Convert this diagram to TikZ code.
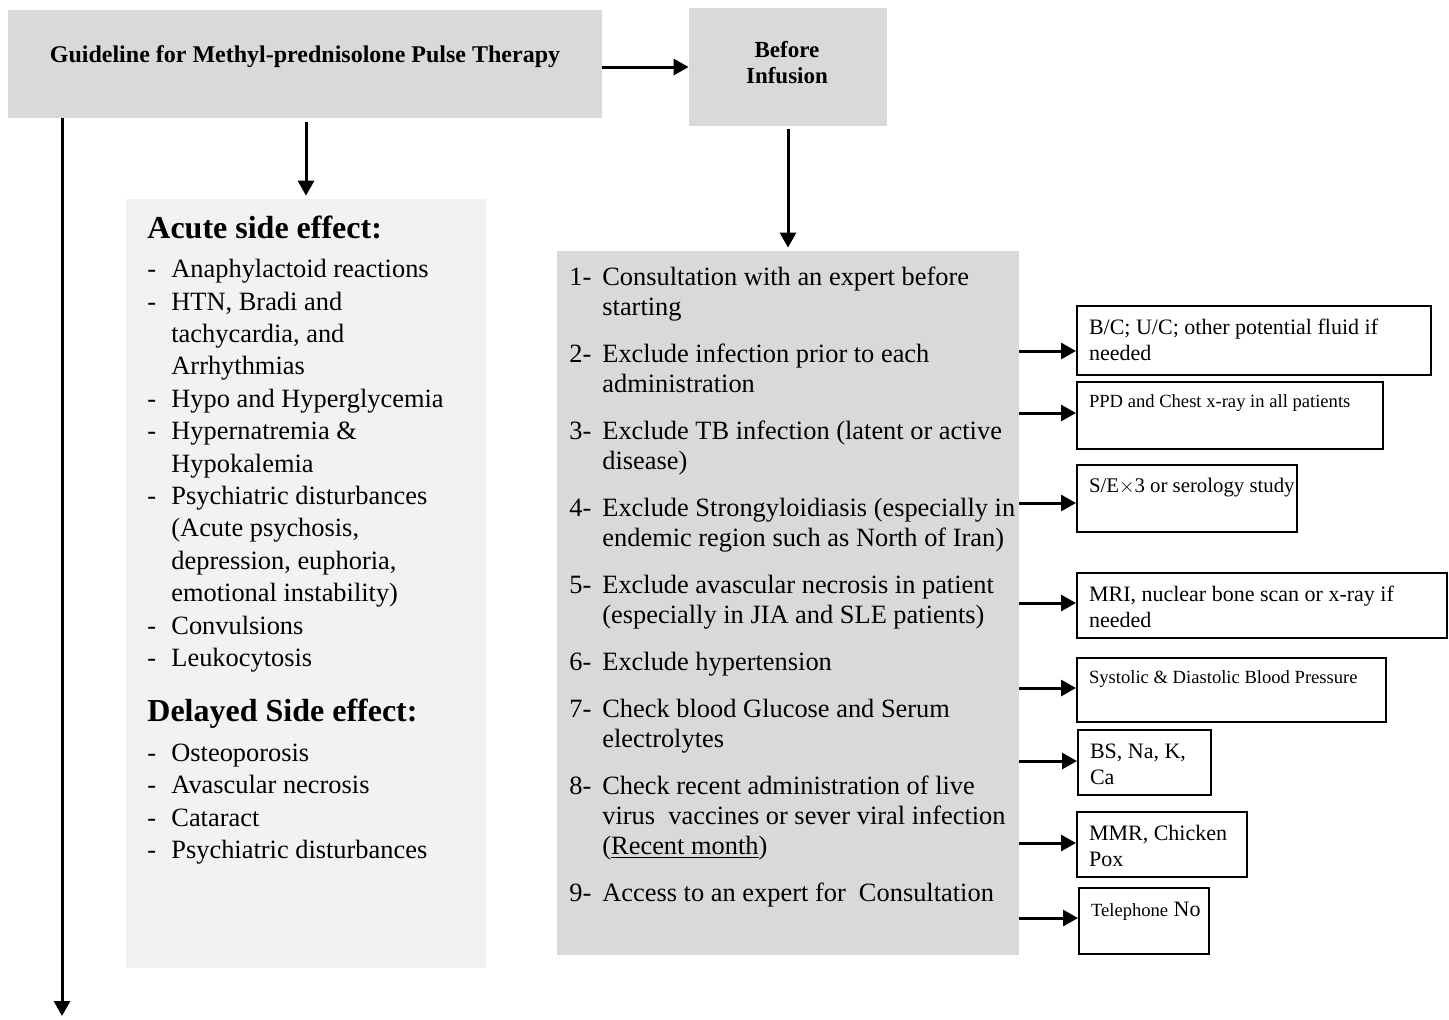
\documentclass[tikz,border=0pt]{standalone}
\usepackage{fontspec}
\setmainfont{Liberation Serif}
\usetikzlibrary{arrows.meta}
\usetikzlibrary{positioning}

\definecolor{boxgray}{HTML}{D9D9D9}
\definecolor{lightbox}{HTML}{F2F2F2}

% text of a small side box: fixed width and height, lines at the top
\newcommand{\sidetext}[3]{\parbox[t][#2][t]{#1}{\begin{tabular}[t]{@{}l@{}}#3\end{tabular}}}

\begin{document}
\begin{tikzpicture}[x=0.5pt, y=-0.5pt,
    graybox/.style={fill=boxgray, inner sep=0pt},
    sidebox/.style={draw, line width=1pt, anchor=north west, inner xsep=6pt, inner ysep=5pt, font=\fontsize{11}{13}\selectfont},
    smalltext/.style={font=\fontsize{9.3}{11}\selectfont},
    arr/.style={line width=1.5pt, -{Triangle[length=7.5pt, width=8pt]}},
    head/.style={anchor=base west, inner sep=0pt, font=\bfseries\fontsize{16}{19}\selectfont},
    list/.style={anchor=base west, inner sep=0pt}]
    \useasboundingbox (0,0) rectangle (1449,1019);

    % Main boxes
    \node[graybox, minimum width=297pt, minimum height=54pt] (title) at (305,64) {};
    \node[graybox, minimum width=99pt, minimum height=59pt] (before) at (788,67) {};
    \node[fill=lightbox, inner sep=0pt, minimum width=180pt, minimum height=384.5pt] (effects) at (306,583.5) {};
    \node[graybox, minimum width=231pt, minimum height=352pt] (checks) at (788,603) {};

    \node[anchor=base, inner sep=0pt, font=\bfseries\fontsize{12}{14}\selectfont] (titletext) at (305,62)
        {Guideline for Methyl-prednisolone Pulse Therapy};
    \node[anchor=base, inner sep=0pt, font=\bfseries\fontsize{11.5}{13}\selectfont] (beforetext) at (787,57.3)
        {\begin{tabular}[t]{@{}c@{}}Before\\Infusion\end{tabular}};

    % Side effects
    \node[head] (acute) at (147,238) {Acute side effect:};
    \node[list, font=\fontsize{13.2}{16.2}\selectfont] (acutelist) at (147,277.7) {%
        \begin{tabular}[t]{@{}p{12pt}@{}l@{}}
        - & Anaphylactoid reactions\\
        - & HTN, Bradi and\\
          & tachycardia, and\\
          & Arrhythmias\\
        - & Hypo and Hyperglycemia\\
        - & Hypernatremia \&\\
          & Hypokalemia\\
        - & Psychiatric disturbances\\
          & (Acute psychosis,\\
          & depression, euphoria,\\
          & emotional instability)\\
        - & Convulsions\\
        - & Leukocytosis
        \end{tabular}};
    \node[head] (delayed) at (147,721) {Delayed Side effect:};
    \node[list, font=\fontsize{13.2}{16.3}\selectfont] (delayedlist) at (147,761) {%
        \begin{tabular}[t]{@{}p{12pt}@{}l@{}}
        - & Osteoporosis\\
        - & Avascular necrosis\\
        - & Cataract\\
        - & Psychiatric disturbances
        \end{tabular}};

    % Checks before infusion
    \node[list, font=\fontsize{13.2}{15}\selectfont] (checklist) at (569,285.5) {%
        \begin{tabular}[t]{@{}p{16.5pt}@{}l@{}}
        1- & Consultation with an expert before\\
           & starting\\[8.5pt]
        2- & Exclude infection prior to each\\
           & administration\\[8.5pt]
        3- & Exclude TB infection (latent or active\\
           & disease)\\[8.5pt]
        4- & Exclude Strongyloidiasis (especially in\\
           & endemic region such as North of Iran)\\[8.5pt]
        5- & Exclude avascular necrosis in patient\\
           & (especially in JIA and SLE patients)\\[8.5pt]
        6- & Exclude hypertension\\[8.5pt]
        7- & Check blood Glucose and Serum\\
           & electrolytes\\[8.5pt]
        8- & Check recent administration of live\\
           & virus\ \ vaccines or sever viral infection\\
           & (\underline{Recent month})\\[8.5pt]
        9- & Access to an expert for\ \ Consultation
        \end{tabular}};

    % Tests
    \node[sidebox] (bc) at (1076,305) {\sidetext{165pt}{24.5pt}{B/C; U/C; other potential fluid if\\needed}};
    \node[sidebox, smalltext] (ppd) at (1076,381) {\sidetext{141pt}{23.5pt}{PPD and Chest x-ray in all patients}};
    \node[sidebox, font=\fontsize{10.4}{12.5}\selectfont] (se) at (1076,464) {\sidetext{98pt}{23.5pt}{S/E$\times$3 or serology study}};
    \node[sidebox] (mri) at (1076,572) {\sidetext{173pt}{22.5pt}{MRI, nuclear bone scan or x-ray if\\needed}};
    \node[sidebox, smalltext] (bp) at (1076,657) {\sidetext{142.5pt}{22pt}{Systolic \& Diastolic Blood Pressure}};
    \node[sidebox] (lab) at (1077,729) {\sidetext{54.5pt}{22.5pt}{BS, Na, K,\\Ca}};
    \node[sidebox] (vacc) at (1076,811) {\sidetext{73pt}{22.5pt}{MMR, Chicken\\Pox}};
    \node[sidebox] (tel) at (1078,887) {\sidetext{53pt}{23pt}{{\fontsize{9.3}{11}\selectfont Telephone} No}};

    % Connectors
    \coordinate (bottom) at (62,1016);
    \draw[arr] (title.south -| bottom) -- (bottom);
    \draw[arr, shorten <=2pt, shorten >=1.5pt] (effects.north |- title.south) -- (effects.north);
    \draw[arr] (before.west -| title.east) -- (before.west);
    \draw[arr, shorten <=1.5pt, shorten >=1.5pt] (before.south) -- (checks.north);
    \foreach \b/\y in {bc/351, ppd/413, se/503, mri/603, bp/688, lab/761, vacc/843, tel/918}
        \draw[arr] (checks.east |- 0,\y) -- (\b.west |- 0,\y);
\end{tikzpicture}
\end{document}
